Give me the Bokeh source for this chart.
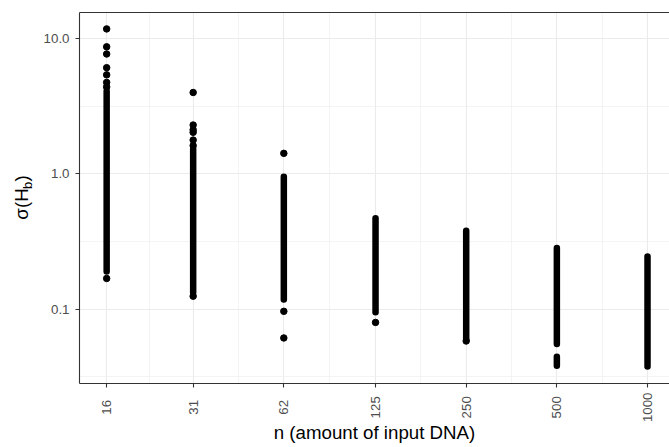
import math
import numpy as np
from bokeh.plotting import figure
from bokeh.layouts import row
from bokeh.models import FixedTicker, LogAxis, Range1d, PrintfTickFormatter
from bokeh.core.properties import value
from bokeh.embed import file_html
from bokeh.resources import INLINE

# ---- data ----
categories = [16, 31, 62, 125, 250, 500, 1000]
tick_labels = ["16", "31", "62", "125", "250", "500", "1000"]
y_ticks = [0.1, 1.0, 10.0]

# dense vertical runs of overlapping points (low / high end of each run)
strip_n = [16, 31, 62, 125, 250, 500, 500, 1000]
strip_lo = [0.19, 0.133, 0.118, 0.095, 0.060, 0.0554, 0.0383, 0.0378]
strip_hi = [4.1, 1.53, 0.955, 0.47, 0.381, 0.284, 0.0447, 0.246]

# individually visible points
point_n = [16, 16, 16, 16, 16, 16, 16, 16,
           31, 31, 31, 31, 31, 31, 31,
           62, 62, 62,
           125, 250]
point_v = [11.8, 8.7, 7.7, 6.1, 5.4, 4.75, 4.4, 0.169,
           4.0, 2.30, 2.12, 2.03, 1.78, 1.62, 0.125,
           1.42, 0.0966, 0.0614,
           0.080, 0.0583]

FONT = "Liberation Sans"
BORDER = "#333333"
GRID = "#EBEBEB"
TICKCOL = "#4D4D4D"

W, H = 669, 447
FRAME_TOP, FRAME_BOTTOM, FRAME_LEFT = 12, 383, 79

x_minor = [float(np.sqrt(a * b)) for a, b in zip(categories[:-1], categories[1:])]
y_minor = [float(np.sqrt(a * b)) for a, b in zip([0.01] + y_ticks[:-1], y_ticks)]

# pad shorter tick labels so that all are centred like the reference
maxlen = max(len(t) for t in tick_labels)
padded = {v: t + "\u00a0" * (maxlen - len(t)) for v, t in zip(categories, tick_labels)}

LEFT_W = 37
p = figure(width=W - LEFT_W, height=H, x_axis_type="log", y_axis_type="log",
           x_range=Range1d(13.0, 1183.0), y_range=Range1d(0.0283, 15.6),
           output_backend="svg", toolbar_location=None,
           min_border_left=FRAME_LEFT - LEFT_W, min_border_right=0,
           min_border_top=FRAME_TOP, min_border_bottom=H - FRAME_BOTTOM)
p.background_fill_color = "white"
p.border_fill_color = "white"
p.outline_line_color = None

xt = FixedTicker(ticks=categories, minor_ticks=x_minor)
yt = FixedTicker(ticks=y_ticks, minor_ticks=y_minor)
p.xaxis.ticker = xt
p.yaxis.ticker = yt
p.xgrid.ticker = xt
p.ygrid.ticker = yt

for g in (p.xgrid, p.ygrid):
    g.grid_line_color = GRID
    g.grid_line_width = 1.1
    g.minor_grid_line_color = GRID
    g.minor_grid_line_width = 0.55

for ax in (p.xaxis, p.yaxis):
    ax.axis_line_color = BORDER
    ax.axis_line_width = 1.1
    ax.major_tick_line_color = BORDER
    ax.major_tick_line_width = 1.1
    ax.major_tick_out = 4
    ax.major_tick_in = 0
    ax.minor_tick_out = 0
    ax.minor_tick_in = 0
    ax.major_label_text_font = FONT
    ax.major_label_text_font_size = "13.3px"
    ax.major_label_text_color = TICKCOL

p.yaxis.formatter = PrintfTickFormatter(format="%.1f")
p.yaxis.major_label_standoff = 6

p.xaxis.major_label_overrides = padded
p.xaxis.major_label_orientation = math.pi / 2
p.xaxis.major_label_standoff = 5
p.xaxis.axis_label = "n (amount of input DNA)"
p.xaxis.axis_label_text_font = FONT
p.xaxis.axis_label_text_font_size = "18.7px"
p.xaxis.axis_label_text_font_style = "normal"
p.xaxis.axis_label_text_color = "black"
p.xaxis.axis_label_standoff = -3

top = LogAxis(ticker=FixedTicker(ticks=[]), major_label_text_font_size="0px",
              major_tick_out=0, major_tick_in=0, minor_tick_out=0, minor_tick_in=0,
              axis_line_color=BORDER, axis_line_width=1.1)
p.add_layout(top, "above")

# data marks
p.segment(x0=strip_n, y0=strip_lo, x1=strip_n, y1=strip_hi,
          line_width=6.5, line_cap="round", line_color="black")
p.scatter(point_n, point_v, size=6.5, fill_color="black", line_color="black")

# narrow strip on the left holding the y-axis title sigma(H_b);
# its frame is aligned with the main frame, so its y range maps page pixels
q = figure(width=LEFT_W, height=H, x_range=Range1d(0, LEFT_W),
           y_range=Range1d(H - FRAME_BOTTOM, H - FRAME_TOP),
           output_backend="svg", toolbar_location=None, min_border=0,
           x_axis_location=None, y_axis_location=None)
q.outline_line_color = None
q.grid.visible = False
q.background_fill_color = "white"
q.border_fill_color = "white"

ymid = (FRAME_TOP + FRAME_BOTTOM) / 2
start = ymid + 21          # bottom end of the rotated title
q.text(x=[21], y=[H - (start - 15)], text=["σ(H"], angle=math.pi / 2,
       text_align="center", text_baseline="alphabetic", text_font=value(FONT),
       text_font_size="18.7px", text_color="black")
q.text(x=[27], y=[H - (start - 33.6)], text=["b"], angle=math.pi / 2,
       text_align="center", text_baseline="alphabetic", text_font=value(FONT),
       text_font_size="13px", text_color="black")
q.text(x=[21], y=[H - (start - 40.6)], text=[")"], angle=math.pi / 2,
       text_align="center", text_baseline="alphabetic", text_font=value(FONT),
       text_font_size="18.7px", text_color="black")

layout = row(q, p)
open("out.html", "w").write(file_html(layout, INLINE))
